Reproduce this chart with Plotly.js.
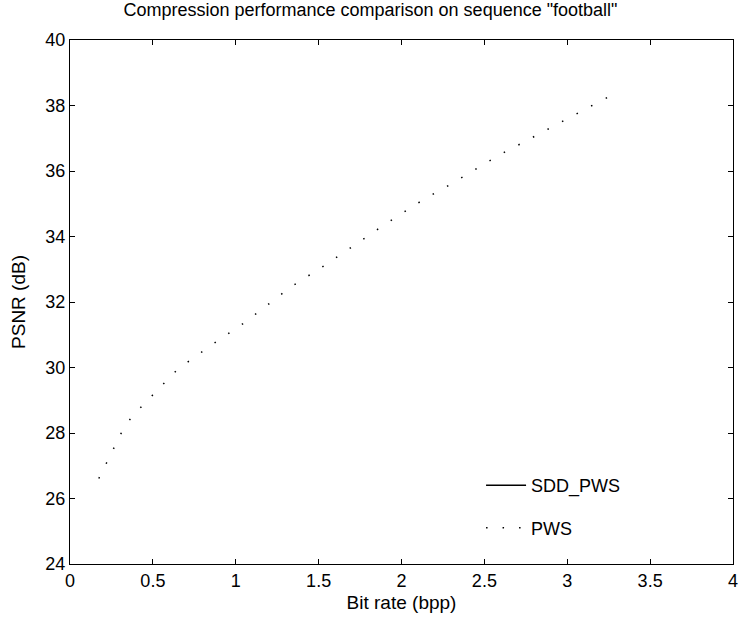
<!DOCTYPE html>
<html>
<head>
<meta charset="utf-8">
<script src="https://cdn.plot.ly/plotly-3.0.1.min.js"></script>
<style>html,body{margin:0;padding:0;background:#fff}#chart{width:741px;height:623px}</style>
</head>
<body>
<div id="chart"></div>
<script>
// Values (the scan only shows dots of the PWS curve)
var pwsRate = [0.174, 0.32, 0.375, 0.65, 0.883, 1.044, 1.184, 1.335, 1.522, 1.683, 1.755, 1.906, 2.127, 2.288, 2.372, 2.486, 2.601, 2.726, 2.848, 2.920, 3.047, 3.168, 3.294];
var pwsPsnr = [26.61, 28.11, 28.51, 29.95, 30.79, 31.34, 31.88, 32.47, 33.07, 33.61, 33.87, 34.39, 35.11, 35.57, 35.83, 36.17, 36.52, 36.85, 37.19, 37.38, 37.72, 38.05, 38.38];
// SDD_PWS curve is not visible in the scan; only its legend entry remains
var sddRate = [null];
var sddPsnr = [null];
var seriesNames = ["SDD_PWS", "PWS"];
var xTicks = [0, 0.5, 1, 1.5, 2, 2.5, 3, 3.5, 4];
var yTicks = [24, 26, 28, 30, 32, 34, 36, 38, 40];

var font = "Liberation Sans, Arial, Helvetica, sans-serif";

var traces = [
  {x: sddRate, y: sddPsnr, name: seriesNames[0], mode: "lines", legendgroup: "a",
   line: {color: "#000", width: 1.5, dash: "solid"}},
  {x: pwsRate, y: pwsPsnr, name: seriesNames[1], mode: "lines", legendgroup: "b",
   line: {color: "#000", width: 1.5, dash: "1.5px,15px"}}
];

var axisCommon = {
  showline: true, linecolor: "#000", linewidth: 1, mirror: "ticks",
  ticks: "inside", ticklen: 5, tickcolor: "#000", tickwidth: 1,
  showgrid: false, zeroline: false,
  tickfont: {family: font, size: 18, color: "#000"}
};

var layout = {
  width: 741, height: 623,
  paper_bgcolor: "#fff", plot_bgcolor: "#fff",
  margin: {l: 70, r: 8, t: 40, b: 59},
  title: {text: 'Compression performance comparison on sequence "football"',
          font: {family: font, size: 18, color: "#000"}, x: 0.5, xref: "container", xanchor: "center", y: 0.995, yanchor: "top"},
  xaxis: Object.assign({}, axisCommon, {range: [0, 4], tickvals: xTicks, ticktext: xTicks.map(String),
          title: {text: "Bit rate (bpp)", font: {family: font, size: 19, color: "#000"}, standoff: 6}}),
  yaxis: Object.assign({}, axisCommon, {range: [24, 40], tickvals: yTicks, ticktext: yTicks.map(String),
          title: {text: "PSNR (dB)", font: {family: font, size: 19, color: "#000"}, standoff: 14}}),
  showlegend: true,
  legend: {x: 0.62, y: 0.185, xanchor: "left", yanchor: "top", bgcolor: "rgba(0,0,0,0)",
           font: {family: font, size: 18, color: "#000"}, traceorder: "grouped", tracegroupgap: 16,
           itemwidth: 40}
};

Plotly.newPlot("chart", traces, layout, {displayModeBar: false, staticPlot: true});
</script>
</body>
</html>
